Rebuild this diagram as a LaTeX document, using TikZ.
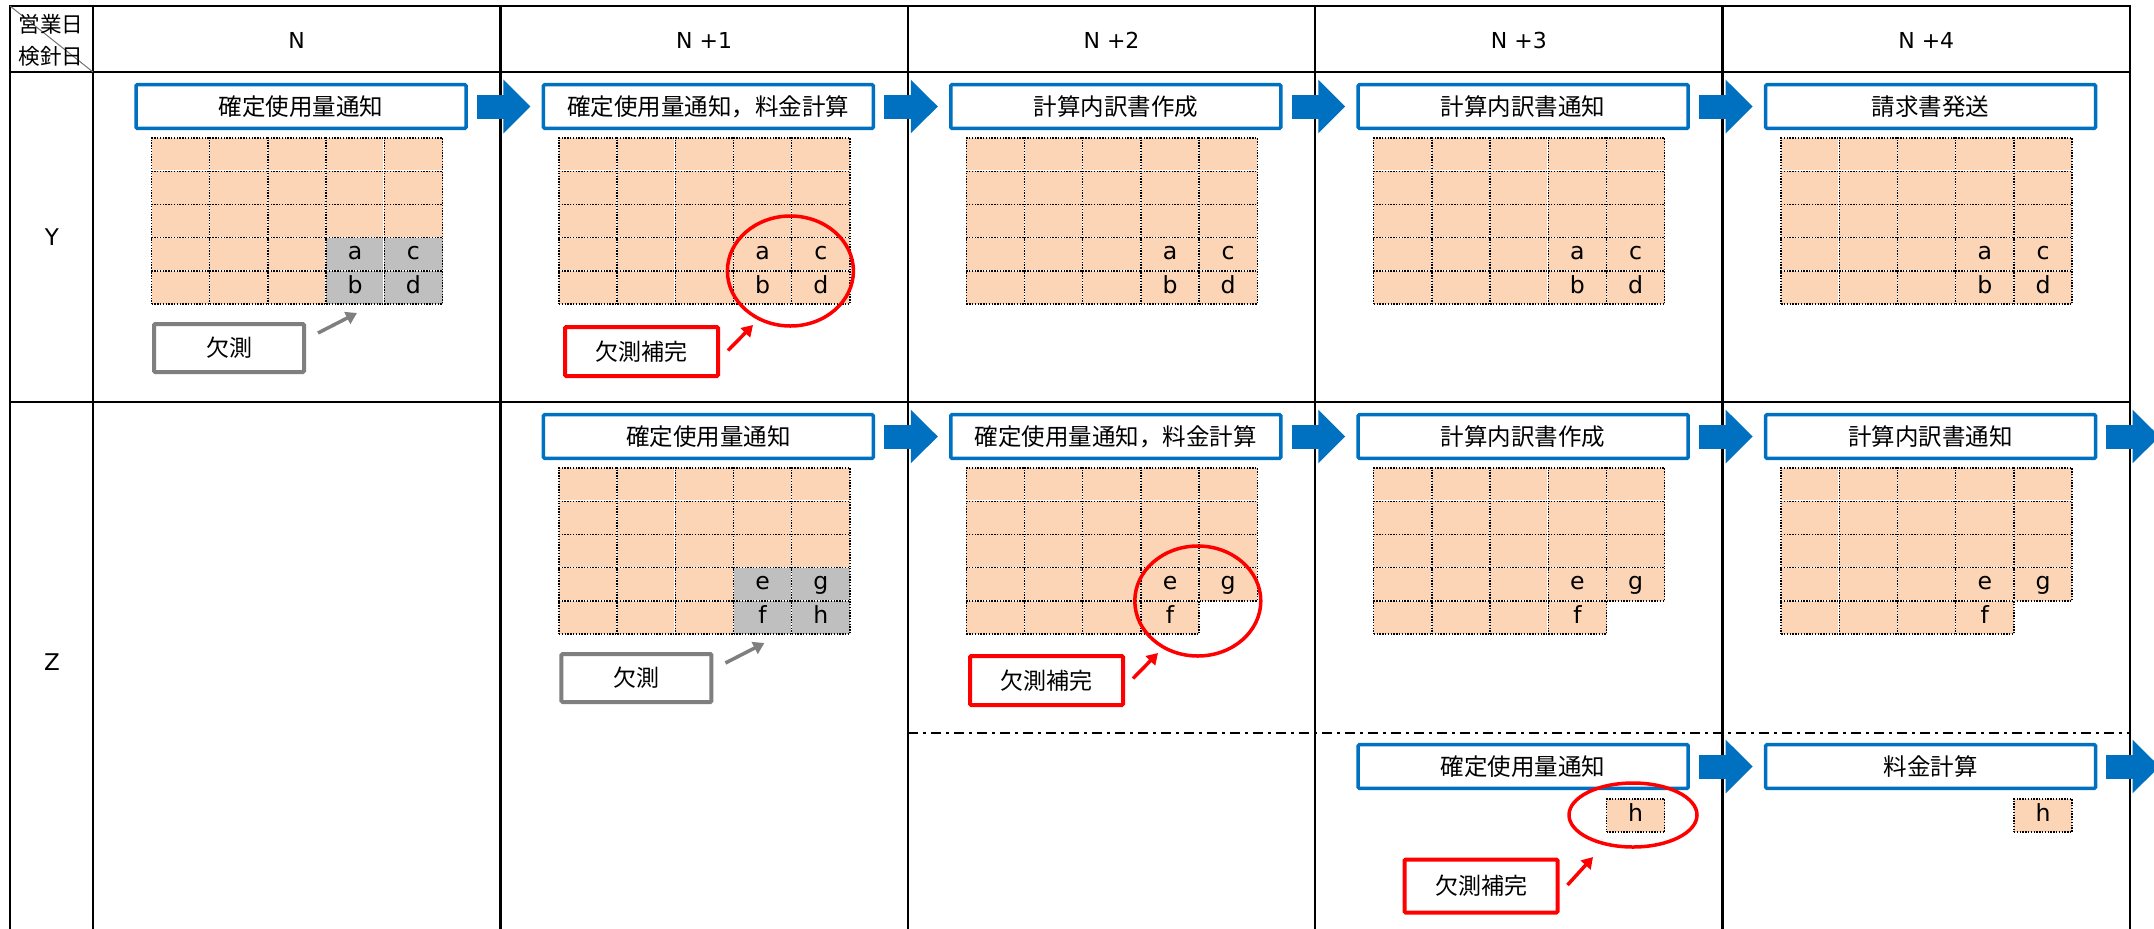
\documentclass[tikz,border=0pt]{standalone}
\usepackage{fontspec}
\setmainfont{DejaVu Sans}
\newfontfamily\jp{Noto Sans CJK JP}
\usetikzlibrary{arrows.meta,shapes.geometric}
\definecolor{bxblue}{HTML}{0070C0}
\definecolor{peach}{HTML}{FBD5B5}
\definecolor{cellgray}{HTML}{BFBFBF}
\definecolor{lossgray}{HTML}{7F7F7F}
\definecolor{fixred}{HTML}{FF0000}
\tikzset{
  tline/.style={line width=1.2pt},
  hdr/.style={font=\fontsize{11pt}{12pt}\selectfont, inner sep=0pt},
  corner/.style={font=\jp\fontsize{10.8pt}{12pt}\selectfont, inner sep=0pt},
  rowlab/.style={font=\fontsize{11.5pt}{12pt}\selectfont, inner sep=0pt},
  stepbox/.style={draw=bxblue, line width=1.75pt, fill=white, minimum width=165pt, minimum height=21.8pt, inner sep=0pt, rounded corners=0.6pt, font=\jp\fontsize{11.75pt}{14pt}\selectfont},
  flowarrow/.style={draw=bxblue, line width=12pt, -{Triangle[length=13.5pt,width=26pt]}},
  cellbox/.style={fill=peach, preaction={draw=white, solid, line width=0.9pt}, draw=black, line width=0.7pt, dash pattern=on 0.7pt off 0.7pt, minimum width=29.1pt, minimum height=16.6pt, inner sep=0pt, text height=8.2pt, text depth=2.6pt, font=\fontsize{11.8pt}{12pt}\selectfont},
  lossbox/.style={draw=lossgray, line width=2pt, fill=white, minimum width=75pt, minimum height=24pt, inner sep=0pt, rounded corners=0.6pt, font=\jp\fontsize{11.5pt}{13pt}\selectfont},
  fixbox/.style={draw=fixred, line width=2pt, fill=white, minimum width=76.5pt, minimum height=24.5pt, inner sep=0pt, rounded corners=0.6pt, font=\jp\fontsize{11.5pt}{13pt}\selectfont},
  fixring/.style={ellipse, draw=fixred, line width=1.75pt, inner sep=0pt},
  lossarrow/.style={draw=lossgray, line width=1.75pt, -{Triangle[length=5.5pt,width=6.5pt]}},
  fixarrow/.style={draw=fixred, line width=1.75pt, -{Triangle[length=5.5pt,width=6.5pt]}},
}
\newcommand\basegrid[3]{%
  \foreach \r in {1,2,3}{\foreach \c in {1,...,5}{%
    \node[cellbox] (#1-\r-\c) at ({#2+(\c-0.5)*58.2},{#3+(\r-0.5)*33.2}) {};}}%
  \foreach \r in {4,5}{\foreach \c in {1,2,3}{%
    \node[cellbox] (#1-\r-\c) at ({#2+(\c-0.5)*58.2},{#3+(\r-0.5)*33.2}) {};}}%
}
\newcommand\onecell[7]{\node[cellbox,#6] (#1-#4-#5) at ({#2+(#5-0.5)*58.2},{#3+(#4-0.5)*33.2}) {#7};}
\begin{document}
\begin{tikzpicture}[x=0.5pt,y=-0.5pt]
\useasboundingbox (0,0) rectangle (2154,928);
\clip (0,0) rectangle (2154,928);
\fill[white] (0,0) rectangle (2154,928);
% table
\draw[tline] (10,6) -- (2130,6);
\draw[tline] (10,72) -- (2130,72);
\draw[tline] (10,402) -- (2130,402);
\foreach \x in {10,93,500.4,907.8,1315.2,1722.6,2130}{\draw[tline] (\x,5) -- (\x,940);}
\draw[black!55, line width=0.5pt] (10,6) -- (93,72);
\draw[line width=1pt, dash pattern=on 5pt off 2.5pt on 1.5pt off 2.5pt] (907.8,733) -- (2130,733);
% headers
\node[corner] (c1) at (51,24) {営業日};
\node[corner] (c2) at (51,56) {検針日};
\node[hdr] (h0) at (296.7,40) {N};
\node[hdr] (h1) at (704.1,40) {N +1};
\node[hdr] (h2) at (1111.5,40) {N +2};
\node[hdr] (h3) at (1518.9,40) {N +3};
\node[hdr] (h4) at (1926.3,40) {N +4};
\node[rowlab] (ry) at (52,237) {Y};
\node[rowlab] (rz) at (52,662) {Z};
% Y row boxes
\node[stepbox] (y0) at (301,106.5) {確定使用量通知};
\node[stepbox] (y1) at (708.4,106.5) {確定使用量通知，料金計算};
\node[stepbox] (y2) at (1115.8,106.5) {計算内訳書作成};
\node[stepbox] (y3) at (1523.2,106.5) {計算内訳書通知};
\node[stepbox] (y4) at (1930.6,106.5) {請求書発送};
\draw[flowarrow] ([xshift=4.5pt]y0.east) -- ([xshift=-5.6pt]y1.west);
\draw[flowarrow] ([xshift=4.5pt]y1.east) -- ([xshift=-5.6pt]y2.west);
\draw[flowarrow] ([xshift=4.5pt]y2.east) -- ([xshift=-5.6pt]y3.west);
\draw[flowarrow] ([xshift=4.5pt]y3.east) -- ([xshift=-5.6pt]y4.west);
% Z row boxes
\node[stepbox] (z1) at (708.4,436.5) {確定使用量通知};
\node[stepbox] (z2) at (1115.8,436.5) {確定使用量通知，料金計算};
\node[stepbox] (z3) at (1523.2,436.5) {計算内訳書作成};
\node[stepbox] (z4) at (1930.6,436.5) {計算内訳書通知};
\coordinate (zend) at (2159.6,436.5);
\draw[flowarrow] ([xshift=4.5pt]z1.east) -- ([xshift=-5.6pt]z2.west);
\draw[flowarrow] ([xshift=4.5pt]z2.east) -- ([xshift=-5.6pt]z3.west);
\draw[flowarrow] ([xshift=4.5pt]z3.east) -- ([xshift=-5.6pt]z4.west);
\draw[flowarrow] ([xshift=4.5pt]z4.east) -- (zend);
% bottom boxes
\node[stepbox] (b3) at (1523.2,766.5) {確定使用量通知};
\node[stepbox] (b4) at (1930.6,766.5) {料金計算};
\coordinate (bend) at (2159.6,766.5);
\draw[flowarrow] ([xshift=4.5pt]b3.east) -- ([xshift=-5.6pt]b4.west);
\draw[flowarrow] ([xshift=4.5pt]b4.east) -- (bend);
% Y row grids
\basegrid{ya}{151.5}{138}
\onecell{ya}{151.5}{138}{4}{4}{fill=cellgray}{a}
\onecell{ya}{151.5}{138}{4}{5}{fill=cellgray}{c}
\onecell{ya}{151.5}{138}{5}{4}{fill=cellgray}{b}
\onecell{ya}{151.5}{138}{5}{5}{fill=cellgray}{d}
\foreach \g/\gx in {yb/558.9,yc/966.3,yd/1373.7,ye/1781.1}{
  \basegrid{\g}{\gx}{138}
  \onecell{\g}{\gx}{138}{4}{4}{}{a}
  \onecell{\g}{\gx}{138}{4}{5}{}{c}
  \onecell{\g}{\gx}{138}{5}{4}{}{b}
  \onecell{\g}{\gx}{138}{5}{5}{}{d}
}
% Z row grids
\basegrid{zb}{558.9}{468}
\onecell{zb}{558.9}{468}{4}{4}{fill=cellgray}{e}
\onecell{zb}{558.9}{468}{4}{5}{fill=cellgray}{g}
\onecell{zb}{558.9}{468}{5}{4}{fill=cellgray}{f}
\onecell{zb}{558.9}{468}{5}{5}{fill=cellgray}{h}
\foreach \g/\gx in {zc/966.3,zd/1373.7,ze/1781.1}{
  \basegrid{\g}{\gx}{468}
  \onecell{\g}{\gx}{468}{4}{4}{}{e}
  \onecell{\g}{\gx}{468}{4}{5}{}{g}
  \onecell{\g}{\gx}{468}{5}{4}{}{f}
}
% h cells
\node[cellbox] (hd) at (1635.6,815.5) {h};
\node[cellbox] (he) at (2043,815.5) {h};
% missing-data callouts
\node[lossbox] (l1) at (229,348) {欠測};
\node[lossbox] (l2) at (636.4,678) {欠測};
\coordinate (s1) at (318,333);
\coordinate (u1) at (357,313);
\coordinate (s2) at (725.4,663);
\coordinate (u2) at (764.4,643);
\draw[lossarrow] (s1) -- (u1);
\draw[lossarrow] (s2) -- (u2);
% fill-in callouts
\node[fixring, minimum width=63pt, minimum height=55pt] (e1) at (790.4,271) {};
\node[fixring, minimum width=63pt, minimum height=55pt] (e2) at (1197.8,601) {};
\node[fixring, minimum width=64pt, minimum height=32pt] (e3) at (1633,815) {};
\node[fixbox] (f1) at (641.5,351.5) {欠測補完};
\node[fixbox] (f2) at (1046.5,680.5) {欠測補完};
\node[fixbox, minimum height=26.5pt] (f3) at (1481,886) {欠測補完};
\coordinate (t1) at (753,325);
\coordinate (t2) at (1158,653);
\coordinate (t3) at (1593,857);
\draw[fixarrow] ([xshift=4pt,yshift=0.5pt]f1.east) -- (t1);
\draw[fixarrow] ([xshift=4pt,yshift=1pt]f2.east) -- (t2);
\draw[fixarrow] ([xshift=4pt,yshift=0.5pt]f3.east) -- (t3);
\end{tikzpicture}
\end{document}
